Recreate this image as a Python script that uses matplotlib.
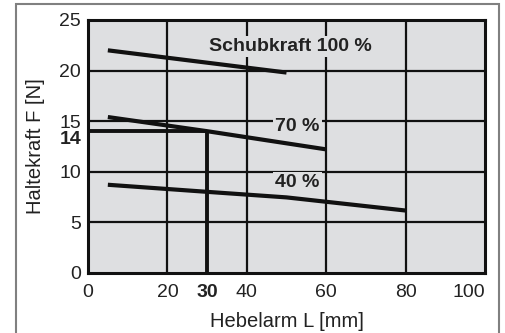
import matplotlib
matplotlib.use("Agg")
import matplotlib.pyplot as plt
from matplotlib.patches import Rectangle

plt.rcParams['font.family'] = ['Liberation Sans', 'DejaVu Sans']

# Data
x100 = [5, 50]
y100 = [22.0, 19.8]
x70 = [5, 30, 60]
y70 = [15.4, 14.0, 12.2]
x40 = [5, 30, 50, 80]
y40 = [8.7, 8.0, 7.45, 6.15]
xticks = [0, 20, 30, 40, 60, 80, 100]
yticks = [0, 5, 10, 14, 15, 20, 25]
ref_x = 30
ref_y = 14
labels = ["Schubkraft 100 %", "70 %", "40 %"]

fig = plt.figure(figsize=(5.05, 3.33), dpi=100)
W, H = 505, 333
ax = fig.add_axes([88/W, 1 - 272.7/H, (485-88)/W, (272.7-20)/H])
ax.set_facecolor('#dedfe1')
ax.set_xlim(0, 100)
ax.set_ylim(0, 25)

# outer frame
fig.patches.append(Rectangle((16/W, -0.05), (499-16)/W, 1.05 - 4/H, transform=fig.transFigure,
                             fill=False, edgecolor='#808080', linewidth=1.5, zorder=0))

for gx in [20, 40, 60, 80]:
    ax.axvline(gx, color='#111111', lw=1.6, zorder=1)
for gy in [5, 10, 15, 20]:
    ax.axhline(gy, color='#111111', lw=1.6, zorder=1)

ax.plot(x100, y100, color='#111111', lw=3.0, zorder=3, solid_capstyle='butt')
ax.plot(x70, y70, color='#111111', lw=3.0, zorder=3, solid_capstyle='butt')
ax.plot(x40, y40, color='#111111', lw=3.0, zorder=3, solid_capstyle='butt')

ax.plot([0, ref_x], [ref_y, ref_y], color='#111111', lw=2.8, zorder=3, solid_capstyle='butt')
ax.plot([ref_x, ref_x], [0, ref_y], color='#111111', lw=2.8, zorder=3, solid_capstyle='butt')

bbox = dict(facecolor='#dedfe1', edgecolor='none', pad=1.5)
ax.text(50.9, 22.4, labels[0], ha='center', va='center', fontsize=14, fontweight='bold',
        color='#222222', bbox=bbox, zorder=4)
ax.text(52.8, 14.5, labels[1], ha='center', va='center', fontsize=14, fontweight='bold',
        color='#222222', bbox=bbox, zorder=4)
ax.text(52.8, 8.9, labels[2], ha='center', va='center', fontsize=14, fontweight='bold',
        color='#222222', bbox=bbox, zorder=4)

ax.set_xticks(xticks)
ax.set_xticklabels([str(v) for v in xticks])
ax.set_yticks(yticks)
ax.set_yticklabels([str(v) for v in yticks])
ax.tick_params(length=0, labelsize=14, colors='#222222')
ax.tick_params(axis='x', pad=8)
ax.tick_params(axis='y', pad=5)
for lab in ax.get_xticklabels():
    if lab.get_text() == str(ref_x):
        lab.set_fontweight('bold')
    if lab.get_text() == str(xticks[-1]):
        lab.set_ha('right')
for lab in ax.get_yticklabels():
    if lab.get_text() == str(ref_y):
        lab.set_fontweight('bold')
        lab.set_va('top')

for s in ax.spines.values():
    s.set_linewidth(2.2)
    s.set_color('#111111')
    s.set_zorder(5)

ax.set_xlabel("Hebelarm L [mm]", fontsize=14.5, color='#222222', labelpad=8)
ax.set_ylabel("Haltekraft F [N]", fontsize=14.5, color='#222222', labelpad=10)

fig.savefig("out.png", dpi=100)
